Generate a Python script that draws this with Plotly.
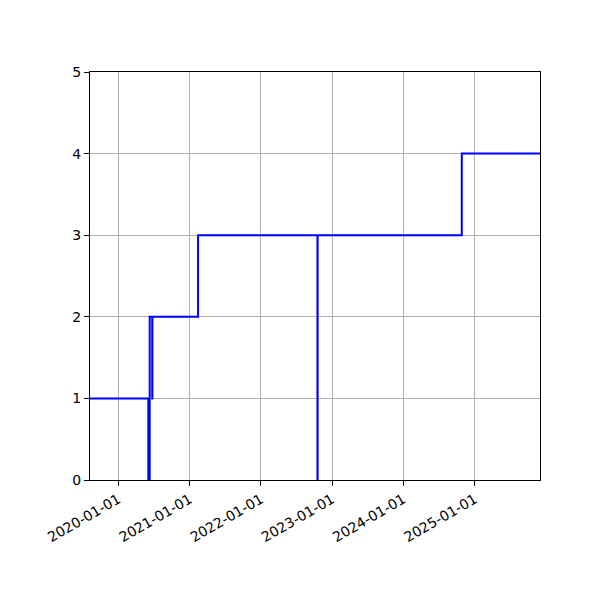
import plotly.graph_objects as go

# step data
dates = ["2019-08-09", "2020-06-03", "2020-06-10", "2020-06-23", "2020-06-24",
         "2021-02-13", "2022-10-18", "2022-10-19", "2024-10-27", "2025-12-02"]
values = [1, 0, 2, 1, 2, 3, 0, 3, 4, 4]

tick_dates = ["2020-01-01", "2021-01-01", "2022-01-01", "2023-01-01", "2024-01-01", "2025-01-01"]
y_ticks = [0, 1, 2, 3, 4, 5]

fig = go.Figure(go.Scatter(
    x=dates,
    y=values,
    mode="lines",
    line=dict(color="#0000ff", width=2, shape="hv"),
))

axis_style = dict(
    showline=True,
    linecolor="black",
    linewidth=1,
    mirror=True,
    ticks="outside",
    ticklen=5,
    tickcolor="black",
    showgrid=True,
    gridcolor="#b0b0b0",
    gridwidth=1,
    zeroline=False,
    tickfont=dict(family="DejaVu Sans", size=14, color="black"),
)

fig.update_xaxes(
    range=[dates[0], dates[-1]],
    tickvals=tick_dates,
    ticktext=tick_dates,
    tickangle=-30,
    **axis_style,
)
fig.update_yaxes(range=[0, 5], tickvals=y_ticks, **axis_style)

# page body adds ~8px offset, so pull the margins in
fig.update_layout(
    width=600,
    height=600,
    margin=dict(l=82, r=68, t=64, b=128),
    paper_bgcolor="white",
    plot_bgcolor="white",
    showlegend=False,
)

fig.write_html("out.html")
